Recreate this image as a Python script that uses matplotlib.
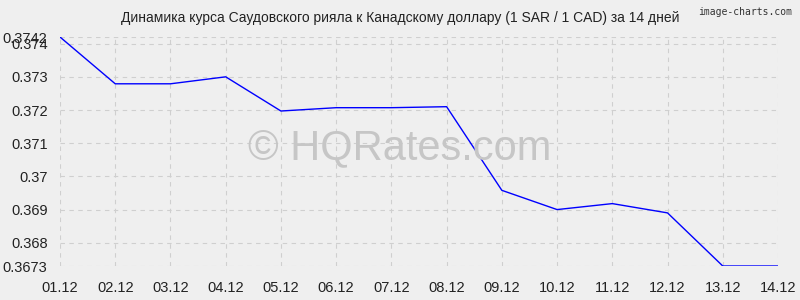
import matplotlib
matplotlib.use("Agg")
import matplotlib.pyplot as plt

plt.rcParams['font.family'] = ['Liberation Sans', 'DejaVu Sans']

dates = ["01.12", "02.12", "03.12", "04.12", "05.12", "06.12", "07.12",
         "08.12", "09.12", "10.12", "11.12", "12.12", "13.12", "14.12"]
rates = [0.3742, 0.37279, 0.37279, 0.3730, 0.37197, 0.37207, 0.37207,
         0.3721, 0.36958, 0.3690, 0.36918, 0.3689, 0.3673, 0.3673]
yticks = [0.3673, 0.368, 0.369, 0.37, 0.371, 0.372, 0.373, 0.374, 0.3742]
ytick_labels = ["0.3673", "0.368", "0.369", "0.37", "0.371", "0.372", "0.373", "0.374", "0.3742"]
title = "Динамика курса Саудовского рияла к Канадскому доллару (1 SAR / 1 CAD) за 14 дней"

bg = "#efefef"
fig = plt.figure(figsize=(8, 3), dpi=100, facecolor=bg)
ax = fig.add_axes([60/800, 1-266/300, (778-60)/800, (266-37)/300], facecolor=bg)

x = list(range(len(dates)))
ax.plot(x, rates, color="#0000ff", linewidth=1.0, zorder=3)

ax.set_xlim(0, len(dates)-1)
ax.set_ylim(0.3673, 0.3742)
ax.set_xticks(x)
ax.set_xticklabels(dates)
ax.set_yticks(yticks)
ax.set_yticklabels(ytick_labels)
ax.tick_params(axis='both', length=0, labelsize=10.5, colors="#222222")
ax.tick_params(axis='x', pad=11)
ax.tick_params(axis='y', pad=9)
for s in ax.spines.values():
    s.set_visible(False)
ax.grid(True, color="#cfcfcf", linestyle=(0, (4, 4)), linewidth=0.8)

fig.text(0.5, 1-18/300, title, ha="center", va="center", fontsize=10, color="#222222")
fig.text(0.99, 1-12/300, "image-charts.com", ha="right", va="center", fontsize=7, color="#333333", family=["DejaVu Sans Mono", "DejaVu Sans"])
fig.text(0.5, 1-148/300, "© HQRates.com", ha="center", va="center",
         fontsize=30, color="#c6c6c6", zorder=2)

fig.savefig("out.png", dpi=100, facecolor=bg)
